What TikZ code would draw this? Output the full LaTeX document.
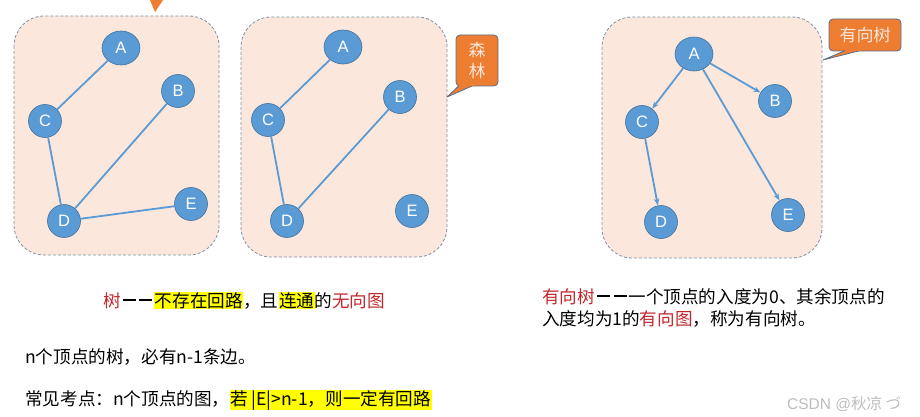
\documentclass[tikz,border=0pt]{standalone}
\usepackage{fontspec}
\setmainfont{Noto Sans CJK SC}
\newfontfamily\latinsans{Liberation Sans}
\usetikzlibrary{shapes.geometric,arrows.meta}
\definecolor{panelfill}{HTML}{FBE7DC}
\definecolor{paneldraw}{HTML}{8090A8}
\definecolor{nodefill}{HTML}{5B9BD5}
\definecolor{nodedraw}{HTML}{41719C}
\definecolor{callfill}{HTML}{ED7D31}
\definecolor{calldraw}{HTML}{5A6E8C}
\definecolor{redtxt}{HTML}{C0272D}
\definecolor{hlyellow}{HTML}{FFFF00}
\definecolor{wmgray}{HTML}{BDBDBD}
\newcommand{\hlt}[1]{{\setlength{\fboxsep}{0.5pt}\colorbox{hlyellow}{\vphantom{国}#1}}}
\newcommand{\ddash}{\hspace{2pt}\rule[0.32em]{13pt}{1.9pt}\hspace{3.5pt}\rule[0.32em]{13pt}{1.9pt}\hspace{2pt}}
\tikzset{
  panel/.style={fill=panelfill,draw=paneldraw,dash pattern=on 3pt off 2pt,line width=0.8pt,rounded corners=30pt},
  vtx/.style={circle,fill=nodefill,draw=nodedraw,line width=0.6pt,minimum size=33pt,inner sep=0pt,text=white,font=\latinsans\fontsize{16.5}{16.5}\selectfont},
  vtxa/.style={vtx,ellipse,minimum width=38pt,minimum height=34pt},
  edge/.style={draw=nodefill,line width=1.8pt},
  arc/.style={edge,-{Stealth[length=7pt,width=5.5pt]}},
  callout/.style={fill=callfill,draw=calldraw,line width=0.8pt,rounded corners=4pt},
  calltxt/.style={text=panelfill,font=\fontsize{17}{20}\selectfont,inner sep=0pt},
  body/.style={anchor=base west,inner sep=0pt,font=\fontsize{17.6}{22}\selectfont}
}
\begin{document}
\begin{tikzpicture}[x=1pt,y=-1pt]
\useasboundingbox (0,0) rectangle (920,417);
% fragment at top
\fill[callfill] (150,0) -- (163,0) -- (155,12) -- cycle;
% panels
\path[panel] (14,16) rectangle (219,255);
\path[panel] (241,17) rectangle (447,257);
\path[panel] (602,17) rectangle (822,258);
% panel 1
\node[vtxa] (a1) at (121,48) {A};
\node[vtx] (b1) at (178,91) {B};
\node[vtx] (c1) at (45,121) {C};
\node[vtx] (d1) at (64,221) {D};
\node[vtx] (e1) at (191,204) {E};
\draw[edge] (a1) -- (c1);
\draw[edge] (c1) -- (d1);
\draw[edge] (d1) -- (b1);
\draw[edge] (d1) -- (e1);
% panel 2
\node[vtxa] (a2) at (343,47) {A};
\node[vtx] (b2) at (400,97) {B};
\node[vtx] (c2) at (268,120) {C};
\node[vtx] (d2) at (287,221) {D};
\node[vtx] (e2) at (412,211) {E};
\draw[edge] (a2) -- (c2);
\draw[edge] (c2) -- (d2);
\draw[edge] (d2) -- (b2);
% panel 3
\node[vtxa] (a3) at (694,54) {A};
\node[vtx] (b3) at (775,101) {B};
\node[vtx] (c3) at (642,122) {C};
\node[vtx] (d3) at (661,222) {D};
\node[vtx] (e3) at (788,215) {E};
\draw[arc] (a3) -- (c3);
\draw[arc] (a3) -- (b3);
\draw[arc] (a3) -- (e3);
\draw[arc] (c3) -- (d3);
% callout forest
\coordinate (t1) at (447,97);
\path[callout] (456,35) rectangle (498,86);
\fill[callfill,draw=calldraw,line width=0.8pt,line join=round] (459,85.6) -- (t1) -- (473,85.6);
\fill[callfill] (458.5,84) rectangle (473.5,86.5);
\node[calltxt,align=center] (f1) at (477,60.5) {森\\[1pt]林};
% callout directed tree
\coordinate (t2) at (823,60);
\path[callout] (829,19) rectangle (901,51);
\fill[callfill,draw=calldraw,line width=0.8pt,line join=round] (845,50.6) -- (t2) -- (860,50.6);
\fill[callfill] (844.5,49) rectangle (860.5,51.5);
\node[calltxt] (f2) at (865,35) {有向树};
% texts
\node[body] (l1) at (103,307) {\textcolor{redtxt}{树}\ddash\hlt{不存在回路}，且\hlt{连通}的\textcolor{redtxt}{无向图}};
\node[body] (l2) at (25,363) {n个顶点的树，必有n-1条边。};
\node[body] (l3) at (25,405) {常见考点：n个顶点的图，\hlt{若\ |E|>n-1，则一定有回路}};
\node[body] (r1) at (542,303) {\textcolor{redtxt}{有向树}\ddash 一个顶点的入度为0、其余顶点的};
\node[body] (r2) at (542,325) {入度均为1的\textcolor{redtxt}{有向图}，称为有向树。};
\node[anchor=base west,inner sep=0pt,text=wmgray,font=\fontsize{15.5}{18}\selectfont] (wm) at (787,409) {{\latinsans CSDN @}秋凉 づ};
\end{tikzpicture}
\end{document}
